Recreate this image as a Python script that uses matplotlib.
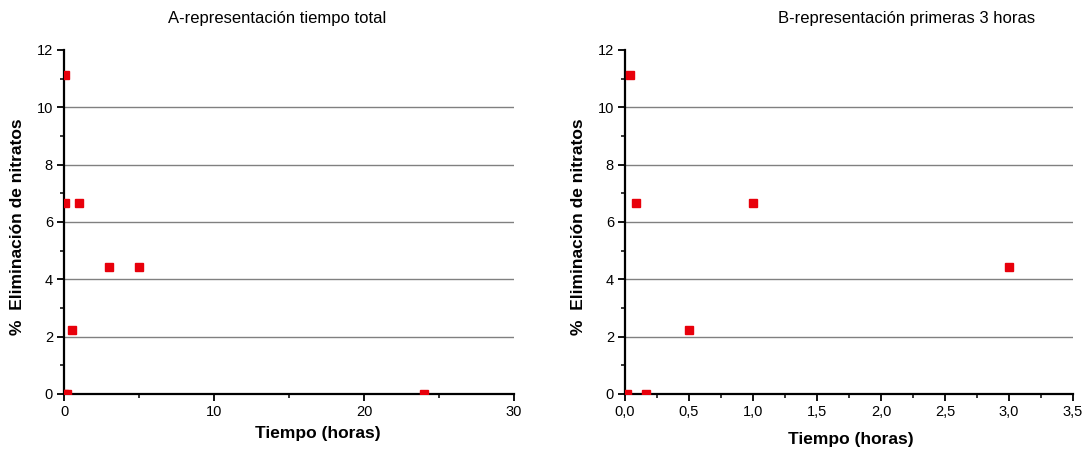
import matplotlib
matplotlib.use('Agg')
import matplotlib.pyplot as plt
from matplotlib.ticker import MultipleLocator, FuncFormatter

plt.rcParams['font.family'] = ['Liberation Sans', 'DejaVu Sans']

# tiempo de muestreo (horas) y % de eliminacion de nitratos
tiempo = [0.017, 0.042, 0.083, 0.167, 0.5, 1, 3, 5, 24]
eliminacion = [0, 11.11, 6.67, 0, 2.22, 6.67, 4.44, 4.44, 0]

titulos = ['A-representación tiempo total', 'B-representación primeras 3 horas']

fig = plt.figure(figsize=(10.87, 4.54), dpi=100)
axA = fig.add_axes([0.0589, 0.1322, 0.414, 0.7577])
axB = fig.add_axes([0.575, 0.1322, 0.4121, 0.7577])

coma = FuncFormatter(lambda v, p: f'{v:.1f}'.replace('.', ','))

for ax in (axA, axB):
    ax.plot(tiempo, eliminacion, 's', color='#e8000b', markersize=5.8, zorder=3)
    ax.set_ylim(0, 12)
    ax.yaxis.set_major_locator(MultipleLocator(2))
    ax.yaxis.set_minor_locator(MultipleLocator(1))
    for y in range(2, 12, 2):
        ax.axhline(y, color='#808080', lw=1, zorder=1)
    for s in ('top', 'right'):
        ax.spines[s].set_visible(False)
    for s in ('left', 'bottom'):
        ax.spines[s].set_linewidth(1.6)
    ax.tick_params(which='major', direction='out', length=5, width=1.3,
                   labelsize=10.5, pad=3)
    ax.tick_params(which='minor', direction='out', length=3, width=1.1)

axA.set_xlim(0, 30)
axA.xaxis.set_major_locator(MultipleLocator(10))
axA.xaxis.set_minor_locator(MultipleLocator(5))

axB.set_xlim(0, 3.5)
axB.xaxis.set_major_locator(MultipleLocator(0.5))
axB.xaxis.set_minor_locator(MultipleLocator(0.25))
axB.xaxis.set_major_formatter(coma)

fig.text(0.255, 0.96, titulos[0], ha='center', va='center', fontsize=12)
fig.text(0.834, 0.96, titulos[1], ha='center', va='center', fontsize=12)

fig.text(0.2926, 0.046, 'Tiempo (horas)', ha='center', va='center', fontsize=12.5, fontweight='bold')
fig.text(0.783, 0.031, 'Tiempo (horas)', ha='center', va='center', fontsize=12.5, fontweight='bold')
fig.text(0.016, 0.5, '%  Eliminación de nitratos', ha='center', va='center', rotation=90,
         fontsize=12.5, fontweight='bold')
fig.text(0.532, 0.5, '%  Eliminación de nitratos', ha='center', va='center', rotation=90,
         fontsize=12.5, fontweight='bold')

fig.savefig('out.png', dpi=100)
